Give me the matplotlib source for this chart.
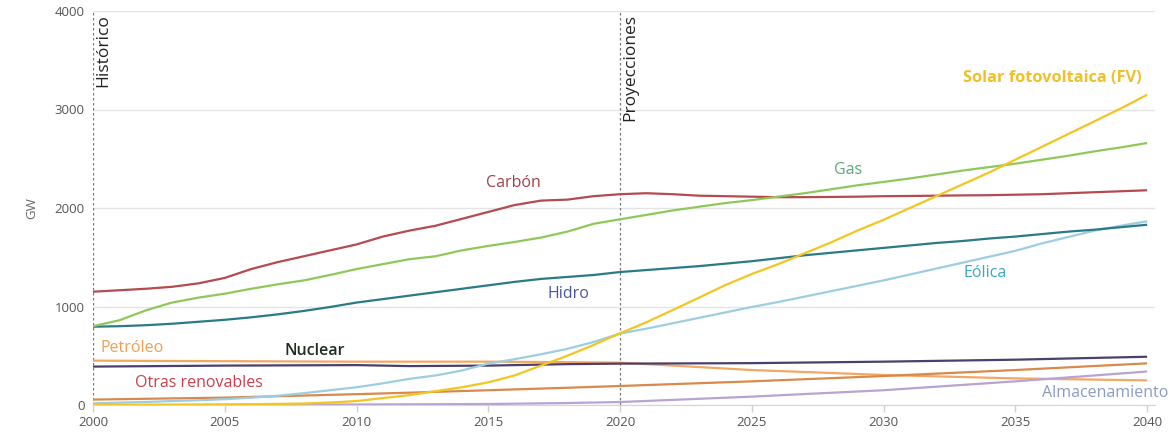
import matplotlib
matplotlib.use("Agg")
import matplotlib.pyplot as plt

plt.rcParams['font.family'] = ['Open Sans', 'DejaVu Sans']

years = list(range(2000, 2041))

carbon = [1150, 1165, 1180, 1200, 1235, 1290, 1380, 1450, 1510, 1570, 1630,
          1710, 1770, 1820, 1890, 1960, 2030, 2075, 2085, 2120, 2140,
          2150, 2140, 2125, 2120, 2115, 2110, 2110, 2112, 2115, 2120,
          2122, 2125, 2128, 2130, 2135, 2140, 2150, 2160, 2170, 2180]
gas = [800, 860, 960, 1040, 1090, 1130, 1180, 1225, 1265, 1320, 1380,
       1430, 1480, 1510, 1570, 1615, 1655, 1700, 1760, 1840, 1885,
       1930, 1975, 2013, 2050, 2080, 2115, 2150, 2190, 2230, 2265,
       2300, 2340, 2380, 2415, 2450, 2490, 2530, 2575, 2615, 2660]
hidro = [795, 800, 810, 825, 845, 865, 890, 920, 955, 995, 1040,
         1075, 1110, 1145, 1180, 1215, 1250, 1280, 1300, 1320, 1350,
         1370, 1390, 1410, 1435, 1460, 1490, 1520, 1545, 1570, 1595,
         1620, 1645, 1665, 1690, 1710, 1735, 1760, 1780, 1805, 1830]
solar = [1, 1, 2, 3, 4, 5, 8, 11, 15, 25, 40,
         70, 100, 140, 180, 230, 300, 400, 500, 610, 728,
         840, 964, 1090, 1218, 1330, 1430, 1540, 1650, 1770, 1880,
         2000, 2120, 2240, 2360, 2490, 2620, 2750, 2880, 3010, 3150]
eolica = [17, 24, 31, 40, 48, 59, 74, 94, 120, 150, 180,
          220, 265, 300, 350, 420, 465, 515, 570, 640, 725,
          775, 830, 885, 940, 995, 1045, 1100, 1155, 1210, 1265,
          1325, 1385, 1445, 1505, 1565, 1640, 1705, 1770, 1820, 1865]

years5 = [2000, 2005, 2010, 2012, 2015, 2018, 2020, 2025, 2030, 2035, 2040]
nuclear = [390, 400, 405, 395, 400, 415, 420, 425, 440, 460, 490]
petroleo = [450, 445, 440, 440, 440, 435, 430, 355, 305, 270, 250]
otras = [55, 75, 110, 125, 150, 175, 193, 240, 294, 355, 423]
almac = [0, 2, 5, 7, 10, 20, 30, 85, 150, 240, 340]

series = [
    ("Petróleo", years5, petroleo, "#f2a865"),
    ("Otras renovables", years5, otras, "#d9894c"),
    ("Almacenamiento", years5, almac, "#b9a3d3"),
    ("Nuclear", years5, nuclear, "#4b3f6e"),
    ("Eólica", years, eolica, "#9dcde0"),
    ("Hidro", years, hidro, "#2b7a87"),
    ("Carbón", years, carbon, "#b54a50"),
    ("Gas", years, gas, "#8fc85a"),
    ("Solar fotovoltaica (FV)", years, solar, "#f3c521"),
]

fig = plt.figure(figsize=(11.7, 4.32), dpi=100)
ax = fig.add_axes([93/1170, 1-405/432, (1155-93)/1170, (405-11)/432])

for name, xs, ys, col in series:
    ax.plot(xs, ys, color=col, lw=1.6, solid_capstyle='butt', zorder=3)

ax.set_xlim(2000, 2040.3)
ax.set_ylim(0, 4000)
ax.set_xticks([2000, 2005, 2010, 2015, 2020, 2025, 2030, 2035, 2040])
ax.set_yticks([0, 1000, 2000, 3000, 4000])
ax.tick_params(axis='both', labelsize=9.5, colors='#555555', length=0, pad=6)
ax.tick_params(axis='x', length=5, color='#d0d0d0', width=1, pad=3)
ax.grid(axis='y', color='#e4e4e4', lw=1)
ax.set_axisbelow(True)
for s in ['top', 'right', 'left']:
    ax.spines[s].set_visible(False)
ax.spines['bottom'].set_color('#cfd6e0')
ax.set_ylabel("GW", fontsize=9.5, color='#666666', labelpad=12)

for xv in (2000, 2020):
    ax.axvline(xv, color='#777777', lw=0.9, ls=(0, (2, 2)), zorder=2)

ax.text(2000.1, 3970, "Histórico", rotation=90, va='top', ha='left',
        fontsize=12.5, color='#222222')
ax.text(2020.1, 3970, "Proyecciones", rotation=90, va='top', ha='left',
        fontsize=12.5, color='#222222')

labels = [
    ("Solar fotovoltaica (FV)", 2036.4, 3320, "#f0c02a", 'bold', 'center'),
    ("Gas", 2028.65, 2386, "#5aa878", 'normal', 'center'),
    ("Carbón", 2015.94, 2254, "#a0404c", 'normal', 'center'),
    ("Hidro", 2018.03, 1127, "#4a55a0", 'normal', 'center'),
    ("Eólica", 2033.85, 1340, "#3aa6c6", 'normal', 'center'),
    ("Nuclear", 2008.4, 548, "#1e2e22", 'semibold', 'center'),
    ("Petróleo", 2000.3, 579, "#f0a050", 'normal', 'left'),
    ("Otras renovables", 2001.6, 223, "#c8404c", 'normal', 'left'),
    ("Almacenamiento", 2040.8, 122, "#8a9cc2", 'normal', 'right'),
]
for txt, xv, yv, col, wt, ha in labels:
    fs = 11.8 if wt == 'bold' else 11.5
    ax.text(xv, yv, txt, color=col, fontsize=fs, fontweight=wt,
            ha=ha, va='center', zorder=5, clip_on=False)

fig.savefig("out.png", dpi=100)
